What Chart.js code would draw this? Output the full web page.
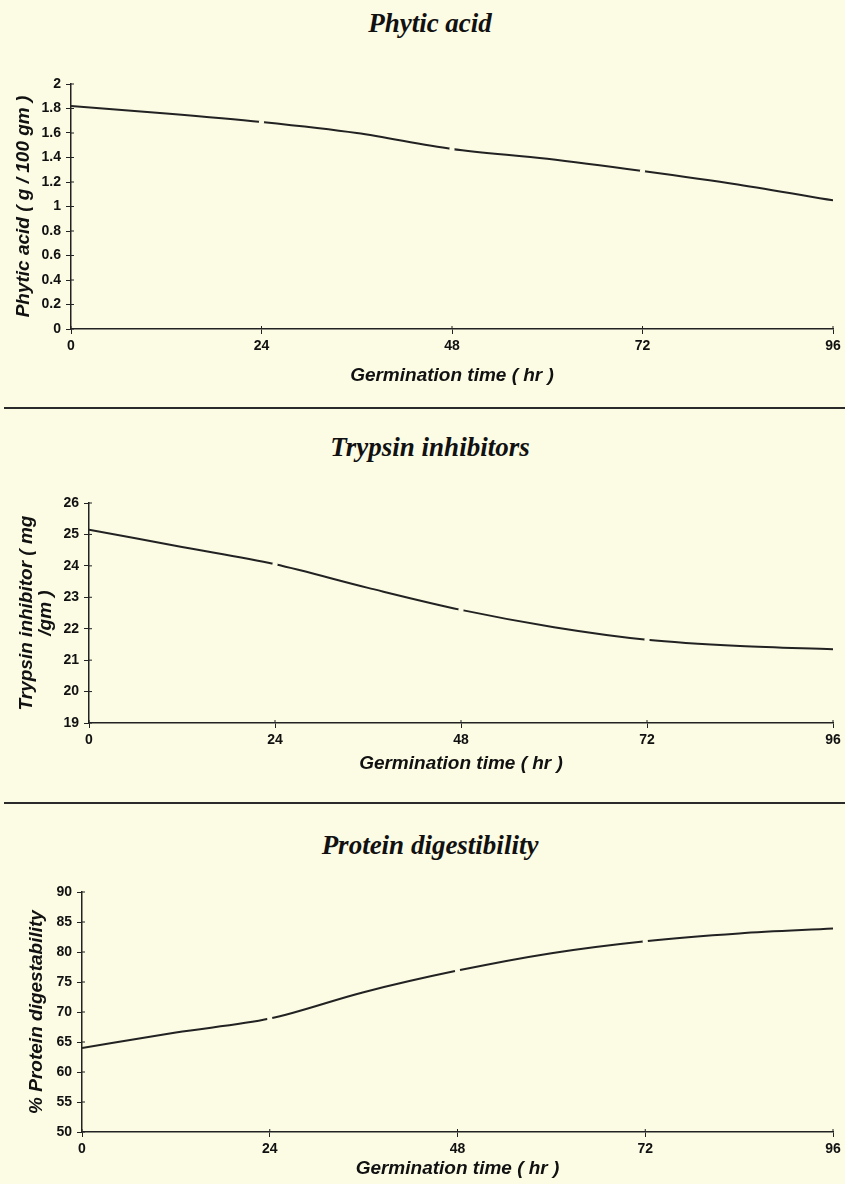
<!DOCTYPE html>
<html>
<head>
<meta charset="utf-8">
<script src="https://cdn.jsdelivr.net/npm/chart.js@4"></script>
<style>
  html, body { margin: 0; padding: 0; }
  body { width: 845px; height: 1184px; background: #fcfbe4; position: relative; overflow: hidden; }
  .box { position: absolute; left: 0; width: 845px; }
  .title { position: absolute; left: 230px; width: 400px; text-align: center;
           font-family: "Liberation Serif", "Times New Roman", serif; font-weight: bold; font-style: italic;
           font-size: 27px; line-height: 30px; color: #111; }
  .sep { position: absolute; left: 4px; width: 841px; height: 2px; background: #2a2a2a; }
</style>
</head>
<body>
<div class="title" style="top:8px">Phytic acid</div>
<div class="sep" style="top:407px"></div>
<div class="title" style="top:432px">Trypsin inhibitors</div>
<div class="sep" style="top:802px"></div>
<div class="title" style="top:830px">Protein digestibility</div>

<div class="box" style="top:50px;height:340px"><canvas id="c1"></canvas></div>
<div class="box" style="top:410px;height:370px"><canvas id="c2"></canvas></div>
<div class="box" style="top:805px;height:379px"><canvas id="c3"></canvas></div>

<script>
// ---- data ----
const hours = [0, 12, 24, 36, 48, 60, 72, 84, 96];
const phyticAcid = [1.82, 1.76, 1.69, 1.60, 1.47, 1.39, 1.29, 1.18, 1.05];
const trypsinInhibitor = [25.15, 24.6, 24.05, 23.3, 22.6, 22.05, 21.65, 21.45, 21.35];
const proteinDigestibility = [64.0, 66.6, 68.9, 73.3, 76.9, 79.8, 81.8, 83.1, 83.9];
const xTicks = [0, 24, 48, 72, 96];
const markerHours = [24, 48, 72];
const xTitle = 'Germination time ( hr )';

const BG = '#fcfbe4';
const INK = '#222';
const tickFont = { family: '"Liberation Sans Narrow", "Arial Narrow", "Liberation Sans", Arial, sans-serif', size: 14, weight: 'bold' };
const titleFont = { family: '"Liberation Sans", Arial, sans-serif', size: 19, weight: 'bold', style: 'italic', lineHeight: 1.0 };

// small stubs of the ticks inside the plot, as in the cross tick marks of the original
const crossTicks = {
  id: 'crossTicks',
  afterDatasetsDraw(chart) {
    const ctx = chart.ctx;
    ctx.save();
    ctx.strokeStyle = INK;
    ctx.lineWidth = 1;
    const xs = chart.scales.x, ys = chart.scales.y;
    ys.ticks.forEach((t, i) => {
      const py = ys.getPixelForTick(i);
      ctx.beginPath(); ctx.moveTo(xs.left, py); ctx.lineTo(xs.left + 3, py); ctx.stroke();
    });
    xs.ticks.forEach((t, i) => {
      const px = xs.getPixelForTick(i);
      ctx.beginPath(); ctx.moveTo(px, ys.bottom); ctx.lineTo(px, ys.bottom - 3); ctx.stroke();
    });
    ctx.restore();
  }
};

function makeChart(id, values, cfg) {
  const pts = hours.map((h, i) => ({ x: h, y: values[i] }));
  return new Chart(document.getElementById(id), {
    type: 'line',
    data: { datasets: [{
      data: pts,
      borderColor: INK,
      borderWidth: 2,
      cubicInterpolationMode: 'monotone',
      pointRadius: c => markerHours.includes(c.raw && c.raw.x) ? 2.6 : 0,
      pointBackgroundColor: BG,
      pointBorderWidth: 0,
      pointHoverRadius: 0
    }]},
    plugins: [crossTicks],
    options: {
      responsive: true,
      maintainAspectRatio: false,
      animation: false,
      events: [],
      layout: { padding: { top: cfg.padTop, right: 12, left: 0, bottom: 0 } },
      plugins: { legend: { display: false }, tooltip: { enabled: false } },
      scales: {
        x: {
          type: 'linear', min: 0, max: 96,
          afterBuildTicks: s => { s.ticks = xTicks.map(v => ({ value: v })); },
          afterFit: s => { s.height = cfg.xHeight; },
          border: { display: true, color: INK, width: 1.5 },
          grid: { drawOnChartArea: false, color: INK, tickLength: 5, lineWidth: 1 },
          ticks: { color: '#111', font: tickFont, padding: 4, maxRotation: 0 },
          title: { display: true, text: xTitle, color: '#111', font: titleFont, padding: { top: 0, bottom: cfg.xTitlePad } }
        },
        y: {
          min: cfg.yMin, max: cfg.yMax,
          ticks: { stepSize: cfg.yStep, color: '#111', font: tickFont, padding: 5,
                   callback: v => String(+Number(v).toFixed(2)) },
          afterFit: s => { s.width = cfg.yWidth; },
          border: { display: true, color: INK, width: 1.5 },
          grid: { drawOnChartArea: false, color: INK, tickLength: 5, lineWidth: 1 },
          title: { display: true, text: cfg.yTitle, color: '#111', font: titleFont, padding: { top: cfg.yTitlePad, bottom: 0 } }
        }
      }
    }
  });
}

makeChart('c1', phyticAcid, {
  padTop: 34, xHeight: 61, xTitlePad: 5, yWidth: 71, yTitlePad: 14,
  yMin: 0, yMax: 2, yStep: 0.2, yTitle: 'Phytic acid ( g / 100 gm )'
});
makeChart('c2', trypsinInhibitor, {
  padTop: 93, xHeight: 57, xTitlePad: 7, yWidth: 89, yTitlePad: 17,
  yMin: 19, yMax: 26, yStep: 1, yTitle: ['Trypsin inhibitor ( mg', '/gm )']
});
makeChart('c3', proteinDigestibility, {
  padTop: 87, xHeight: 52, xTitlePad: 6, yWidth: 82, yTitlePad: 27,
  yMin: 50, yMax: 90, yStep: 5, yTitle: '% Protein digestability'
});
</script>
</body>
</html>
